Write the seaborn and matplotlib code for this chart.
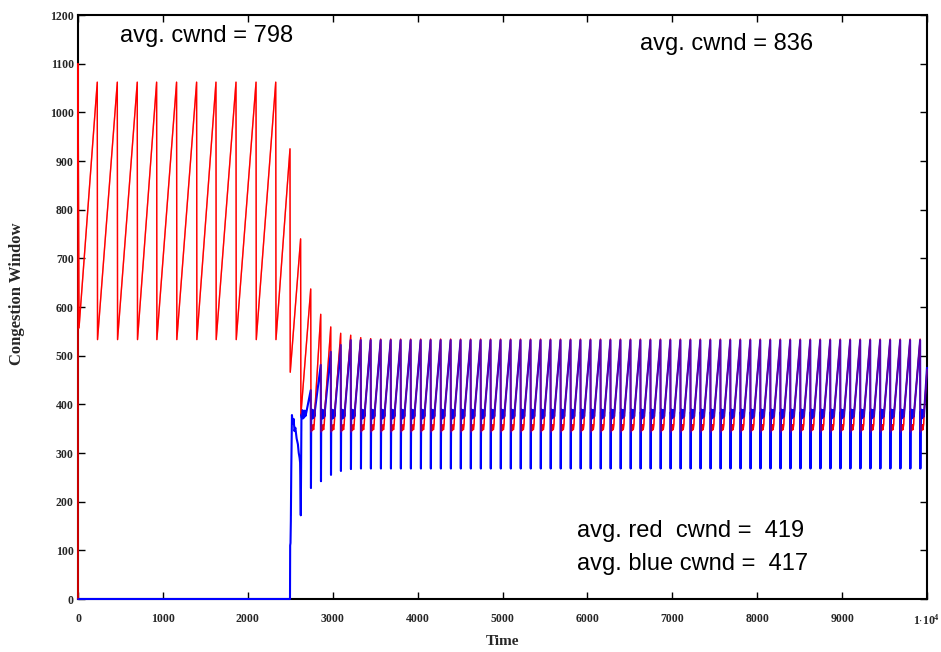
import numpy as np
import pandas as pd
import matplotlib
matplotlib.use("Agg")
import matplotlib.pyplot as plt
import seaborn as sns

# ---------------- data ----------------
# red sawtooth, early phase (single flow)
red_start_t = [0, 0, 12]
red_start_v = [0, 1100, 557]
red_peak_t = [227, 463, 698, 926, 1161, 1397, 1625, 1861, 2097, 2329, 2497, 2622]
red_peak_v = [1062, 1062, 1062, 1062, 1062, 1062, 1062, 1062, 1062, 1062, 925, 740]
red_trough_v = [533, 533, 533, 533, 533, 533, 533, 533, 533, 533, 466, 378]

# blue flow start-up
blue_start_t = [0, 2497, 2499, 2503, 2507, 2512, 2520, 2530, 2540, 2550, 2560, 2575,
                2590, 2600, 2610, 2616, 2624, 2632, 2638, 2644, 2650, 2657, 2664,
                2671, 2680, 2690]
blue_start_v = [0, 0, 110, 115, 160, 265, 378, 360, 370, 345, 352, 330,
                318, 300, 290, 280, 172, 380, 372, 388, 371, 386, 373,
                387, 376, 384]

# steady phase: time of each window drop
cycle_t = [2741, 2859, 2977, 3094, 3212, 3330, 3447, 3565, 3683, 3800,
           3918, 4036, 4153, 4271, 4389, 4506, 4624, 4742, 4859, 4977,
           5095, 5212, 5330, 5448, 5565, 5683, 5801, 5918, 6036, 6154,
           6271, 6389, 6507, 6624, 6742, 6860, 6977, 7095, 7213, 7330,
           7448, 7566, 7683, 7801, 7919, 8036, 8154, 8272, 8389, 8507,
           8625, 8742, 8860, 8978, 9095, 9213, 9331, 9448, 9566, 9684,
           9801, 9919]
blue_peak = [429, 481, 508, 522, 532, 532, 532, 532, 532, 532,
             532, 532, 532, 532, 532, 532, 532, 532, 532, 532,
             532, 532, 532, 532, 532, 532, 532, 532, 532, 532,
             532, 532, 532, 532, 532, 532, 532, 532, 532, 532,
             532, 532, 532, 532, 532, 532, 532, 532, 532, 532,
             532, 532, 532, 532, 532, 532, 532, 532, 532, 532,
             532, 532]
blue_trough = [228, 242, 255, 263, 267, 268, 268, 268, 268, 268,
               268, 268, 268, 268, 268, 268, 268, 268, 268, 268,
               268, 268, 268, 268, 268, 268, 268, 268, 268, 268,
               268, 268, 268, 268, 268, 268, 268, 268, 268, 268,
               268, 268, 268, 268, 268, 268, 268, 268, 268, 268,
               268, 268, 268, 268, 268, 268, 268, 268, 268, 268,
               268, 268]
red_peak = [637, 585, 559, 546, 542, 537, 535, 534, 534, 534,
            534, 534, 534, 534, 534, 534, 534, 534, 534, 534,
            534, 534, 534, 534, 534, 534, 534, 534, 534, 534,
            534, 534, 534, 534, 534, 534, 534, 534, 534, 534,
            534, 534, 534, 534, 534, 534, 534, 534, 534, 534,
            534, 534, 534, 534, 534, 534, 534, 534, 534, 534,
            534, 534]
# shape of the plateau after each drop (time offset, value)
blue_plateau_dt = [6, 10, 15, 20, 26, 32, 38, 44, 48]
blue_plateau_v = [384, 372, 389, 371, 388, 373, 387, 375, 385]
red_plateau_dt = [3, 10, 18, 26, 34, 42, 48]
red_plateau_v = [343, 355, 346, 358, 348, 360, 385]
end_t = 10000
blue_end_v = 475
red_end_v = 472

x_ticks = [0, 1000, 2000, 3000, 4000, 5000, 6000, 7000, 8000, 9000, 10000]
x_ticklabels = ["0", "1000", "2000", "3000", "4000", "5000", "6000", "7000",
                "8000", "9000", r"1$\cdot$10$^{4}$"]
y_ticks = [0, 100, 200, 300, 400, 500, 600, 700, 800, 900, 1000, 1100, 1200]

annotations = [
    ("avg. cwnd = 798", 495, 1157),
    ("avg. cwnd = 836", 6620, 1140),
    ("avg. red  cwnd =  419", 5877, 140),
    ("avg. blue cwnd =  417", 5877, 72),
]

# ---------------- build the polylines ----------------
rt, rv = list(red_start_t), list(red_start_v)
for t, p, tr in zip(red_peak_t, red_peak_v, red_trough_v):
    rt += [t, t + 3]
    rv += [p, tr]
bt, bv = list(blue_start_t), list(blue_start_v)
for i, t in enumerate(cycle_t):
    rt.append(t); rv.append(red_peak[i])
    bt.append(t); bv.append(blue_peak[i])
    bt.append(t + 3); bv.append(blue_trough[i])
    for dt, v in zip(blue_plateau_dt, blue_plateau_v):
        bt.append(t + dt); bv.append(v)
    for dt, v in zip(red_plateau_dt, red_plateau_v):
        rt.append(t + dt); rv.append(v)
rt.append(end_t); rv.append(red_end_v)
bt.append(end_t); bv.append(blue_end_v)

red_df = pd.DataFrame({"Time": rt, "cwnd": rv})
blue_df = pd.DataFrame({"Time": bt, "cwnd": bv})

# ---------------- plot ----------------
sns.set_theme(style="white")
plt.rcParams["font.family"] = ["Liberation Serif", "DejaVu Serif"]
plt.rcParams["mathtext.fontset"] = "custom"
plt.rcParams["mathtext.rm"] = "Liberation Serif:bold"
plt.rcParams["mathtext.it"] = "Liberation Serif:bold"
plt.rcParams["mathtext.bf"] = "Liberation Serif:bold"

fig = plt.figure(figsize=(9.41, 6.52), dpi=100)
ax = fig.add_axes([78 / 941, 53 / 652, 849 / 941, 584 / 652])

sns.lineplot(data=red_df, x="Time", y="cwnd", sort=False, estimator=None,
             color="#ff0000", lw=1.0, ax=ax, zorder=3)
sns.lineplot(data=blue_df, x="Time", y="cwnd", sort=False, estimator=None,
             color="#0000ff", lw=1.5, ax=ax, zorder=3.1)
sns.lineplot(data=red_df, x="Time", y="cwnd", sort=False, estimator=None,
             color="#ff0000", lw=1.0, alpha=0.42, ax=ax, zorder=3.2)
for ln in ax.get_lines():
    ln.set_clip_on(False)

ax.set_xlim(0, 10000)
ax.set_ylim(0, 1200)
ax.set_xticks(x_ticks)
ax.set_xticklabels(x_ticklabels)
ax.set_yticks(y_ticks)
ax.set_yticklabels([str(v) for v in y_ticks])
for lab in ax.get_xticklabels() + ax.get_yticklabels():
    lab.set_fontweight("bold")
    lab.set_fontsize(8.5)
ax.tick_params(axis="both", direction="in", length=5, width=1.0, color="black",
               top=True, right=True, bottom=True, left=True)
ax.tick_params(axis="x", pad=10)
ax.tick_params(axis="y", pad=3)
for s in ax.spines.values():
    s.set_color("black")
    s.set_linewidth(1.5)
    s.set_visible(True)
    s.set_zorder(2.5)

ax.set_xlabel("Time", fontsize=11, fontweight="bold")
ax.set_ylabel("Congestion Window", fontsize=12, fontweight="bold")
ax.xaxis.set_label_coords(0.5, -0.062)
ax.yaxis.set_label_coords(-0.062, 0.522)

for txt, x, y in annotations:
    ax.text(x, y, txt, fontsize=17, family=["Liberation Sans", "DejaVu Sans"],
            ha="left", va="center", color="black")

fig.savefig("out.png", dpi=100)
